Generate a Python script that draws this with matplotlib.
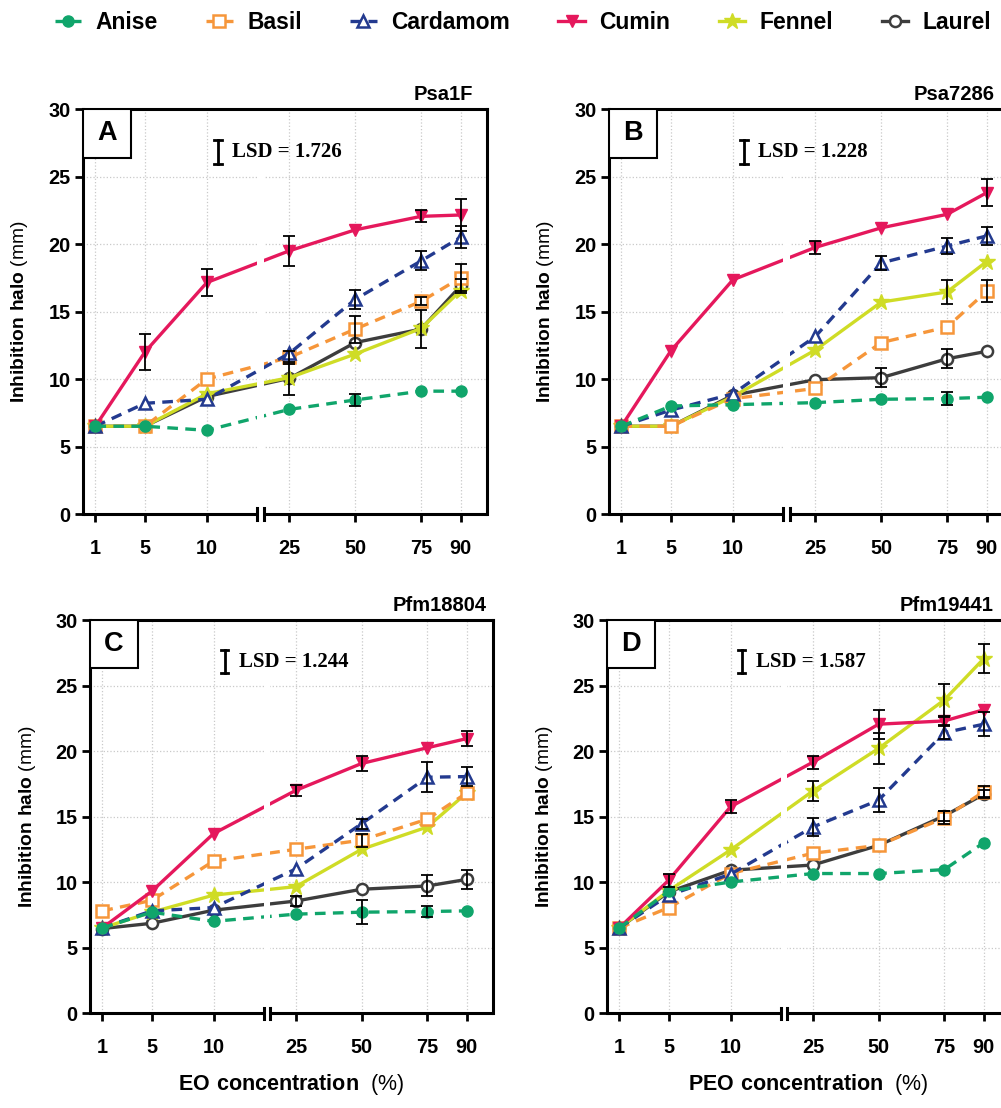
import numpy as np
import matplotlib
matplotlib.use('Agg')
import matplotlib.pyplot as plt
from matplotlib.patches import Rectangle

plt.rcParams['font.family'] = ['Liberation Sans', 'DejaVu Sans']
plt.rcParams['mathtext.fontset'] = 'custom'
plt.rcParams['mathtext.bf'] = 'Liberation Sans:bold'
plt.rcParams['mathtext.rm'] = 'Liberation Sans'

conc = [1, 5, 10, 25, 50, 75, 90]
conc_labels = ['1', '5', '10', '25', '50', '75', '90']
spices = ['Anise', 'Basil', 'Cardamom', 'Cumin', 'Fennel', 'Laurel']

# panel A - Psa1F
A_anise = [6.5, 6.5, 6.2, 7.75, 8.45, 9.1, 9.1]
A_anise_err = [0, 0, 0, 0, 0.45, 0, 0]
A_basil = [6.5, 6.5, 10.0, 11.6, 13.7, 15.75, 17.5]
A_basil_err = [0, 0, 0, 0.5, 1.0, 0.3, 1.0]
A_cardamom = [6.5, 8.2, 8.5, 11.9, 15.9, 18.75, 20.5]
A_cardamom_err = [0, 0, 0, 0, 0.7, 0.7, 0.8]
A_cumin = [6.5, 12.0, 17.15, 19.5, 21.05, 22.05, 22.15]
A_cumin_err = [0, 1.3, 1.0, 1.1, 0, 0.45, 1.2]
A_fennel = [6.5, 6.5, 8.9, 10.1, 11.85, 13.75, 16.55]
A_fennel_err = [0, 0, 0, 0, 0, 0, 0]
A_laurel = [6.5, 6.5, 8.7, 10.05, 12.7, 13.7, 16.9]
A_laurel_err = [0, 0, 0, 1.2, 0, 1.4, 0.5]

# panel B - Psa7286
B_anise = [6.5, 8.0, 8.1, 8.25, 8.5, 8.55, 8.65]
B_anise_err = [0, 0, 0, 0, 0, 0.5, 0]
B_basil = [6.5, 6.5, 8.55, 9.3, 12.7, 13.85, 16.5]
B_basil_err = [0, 0, 0, 0, 0, 0, 0.8]
B_cardamom = [6.5, 7.7, 8.9, 13.15, 18.6, 19.85, 20.6]
B_cardamom_err = [0, 0, 0, 0, 0.5, 0.6, 0.65]
B_cumin = [6.5, 12.1, 17.35, 19.75, 21.2, 22.2, 23.8]
B_cumin_err = [0, 0, 0, 0.5, 0, 0, 1.0]
B_fennel = [6.5, 6.5, 8.7, 12.15, 15.7, 16.45, 18.7]
B_fennel_err = [0, 0, 0, 0, 0, 0.9, 0]
B_laurel = [6.5, 6.5, 8.8, 9.95, 10.1, 11.5, 12.05]
B_laurel_err = [0, 0, 0, 0, 0.7, 0.7, 0]

# panel C - Pfm18804
C_anise = [6.5, 7.7, 7.0, 7.55, 7.7, 7.75, 7.8]
C_anise_err = [0, 0, 0, 0, 0.9, 0.4, 0]
C_basil = [7.8, 8.6, 11.6, 12.5, 13.2, 14.8, 16.8]
C_basil_err = [0, 0, 0, 0, 0.5, 0, 0]
C_cardamom = [6.5, 7.8, 8.05, 11.0, 14.45, 18.0, 18.05]
C_cardamom_err = [0, 0, 0, 0, 0.4, 1.15, 0.7]
C_cumin = [6.5, 9.3, 13.7, 17.0, 19.05, 20.25, 20.95]
C_cumin_err = [0, 0, 0, 0.4, 0.6, 0, 0.55]
C_fennel = [6.5, 7.7, 9.0, 9.65, 12.5, 14.2, 16.8]
C_fennel_err = [0, 0, 0, 0, 0, 0, 0]
C_laurel = [6.45, 6.85, 7.85, 8.55, 9.45, 9.7, 10.2]
C_laurel_err = [0, 0, 0, 0.4, 0, 0.8, 0.75]

# panel D - Pfm19441
D_anise = [6.5, 9.3, 10.0, 10.65, 10.65, 10.95, 13.0]
D_anise_err = [0, 0, 0, 0, 0, 0, 0]
D_basil = [6.5, 8.05, 10.65, 12.2, 12.8, 14.9, 16.9]
D_basil_err = [0, 0, 0, 0, 0, 0.5, 0.4]
D_cardamom = [6.5, 9.0, 10.6, 14.2, 16.25, 21.4, 22.05]
D_cardamom_err = [0, 0, 0, 0.7, 0.9, 0.5, 0.9]
D_cumin = [6.5, 10.15, 15.75, 19.15, 22.05, 22.3, 23.15]
D_cumin_err = [0, 0.5, 0.5, 0.5, 1.1, 0.3, 0]
D_fennel = [6.5, 9.35, 12.45, 16.95, 20.2, 23.9, 27.05]
D_fennel_err = [0, 0, 0, 0.8, 1.2, 1.25, 1.1]
D_laurel = [6.5, 9.25, 10.9, 11.3, 12.8, 15.05, 16.7]
D_laurel_err = [0, 0, 0, 0, 0, 0.4, 0.3]

panel_letters = ['A', 'B', 'C', 'D']
panel_titles = ['Psa1F', 'Psa7286', 'Pfm18804', 'Pfm19441']
lsd_values = ['1.726', '1.228', '1.244', '1.587']
xlabels = [None, None, r'$\mathbf{EO\ concentration}$  (%)',
           r'$\mathbf{PEO\ concentration}$  (%)']

panels = [
    (A_anise, A_anise_err, A_basil, A_basil_err, A_cardamom, A_cardamom_err,
     A_cumin, A_cumin_err, A_fennel, A_fennel_err, A_laurel, A_laurel_err),
    (B_anise, B_anise_err, B_basil, B_basil_err, B_cardamom, B_cardamom_err,
     B_cumin, B_cumin_err, B_fennel, B_fennel_err, B_laurel, B_laurel_err),
    (C_anise, C_anise_err, C_basil, C_basil_err, C_cardamom, C_cardamom_err,
     C_cumin, C_cumin_err, C_fennel, C_fennel_err, C_laurel, C_laurel_err),
    (D_anise, D_anise_err, D_basil, D_basil_err, D_cardamom, D_cardamom_err,
     D_cumin, D_cumin_err, D_fennel, D_fennel_err, D_laurel, D_laurel_err),
]

# style per spice
colors = {'Anise': '#10a56b', 'Basil': '#f6963a', 'Cardamom': '#233a8f',
          'Cumin': '#e5185c', 'Fennel': '#cfdc26', 'Laurel': '#3d3d3d'}
markers = {'Anise': 'o', 'Basil': 's', 'Cardamom': '^', 'Cumin': 'v',
           'Fennel': '*', 'Laurel': 'o'}
msizes = {'Anise': 8, 'Basil': 8, 'Cardamom': 8, 'Cumin': 8, 'Fennel': 12, 'Laurel': 8}
open_marker = {'Anise': False, 'Basil': True, 'Cardamom': True, 'Cumin': False,
               'Fennel': False, 'Laurel': True}
dashed = {'Anise': True, 'Basil': True, 'Cardamom': True, 'Cumin': False,
          'Fennel': False, 'Laurel': False}
draw_order = ['Laurel', 'Fennel', 'Basil', 'Cardamom', 'Cumin', 'Anise']

# broken x axis: 0..LO on the left, HI..100 on the right
BREAK_LO = 14.07
BREAK_HI = 15.2
LEFT_K = 0.0306
RIGHT_K = 0.006508
RIGHT_0 = 0.446


def fwd(x):
    x = np.asarray(x, dtype=float)
    return np.where(x <= BREAK_LO, x * LEFT_K, RIGHT_0 + (x - BREAK_HI) * RIGHT_K)


def inv(f):
    f = np.asarray(f, dtype=float)
    return np.where(f <= BREAK_LO * LEFT_K, f / LEFT_K, BREAK_HI + (f - RIGHT_0) / RIGHT_K)


fig = plt.figure(figsize=(10.01, 11.08), dpi=100)
positions = [
    [0.0829, 0.5361, 0.4036, 0.3655],
    [0.6084, 0.5361, 0.4036, 0.3655],
    [0.0899, 0.0857, 0.4026, 0.3547],
    [0.6064, 0.0857, 0.4026, 0.3547],
]
title_x = [0.965, 0.955, 0.985, 0.958]

legend_handles = None
for i, pos in enumerate(positions):
    ax = fig.add_axes(pos)
    vals = panels[i]
    ax.set_xscale('function', functions=(fwd, inv))
    ax.set_xlim(0, 100)
    ax.set_ylim(0, 30)

    handles = {}
    for name in draw_order:
        k = spices.index(name)
        y = np.array(vals[2 * k])
        e = np.array(vals[2 * k + 1])
        c = colors[name]
        ln, = ax.plot(conc, y, color=c, lw=2.4,
                      linestyle=(0, (3.2, 2.2)) if dashed[name] else '-',
                      marker=markers[name], markersize=msizes[name],
                      markerfacecolor='white' if open_marker[name] else c,
                      markeredgecolor=c, markeredgewidth=1.8 if open_marker[name] else 1,
                      label=name, zorder=2)
        handles[name] = ln
        m = e > 0
        if m.any():
            ax.errorbar(np.array(conc)[m], y[m], yerr=e[m], fmt='none', ecolor='black',
                        elinewidth=1.3, capsize=4, capthick=1.3, zorder=2.6)
    if legend_handles is None:
        legend_handles = [handles[s] for s in spices]

    # white gap for the axis break
    ax.axvspan(BREAK_LO, BREAK_HI, color='white', lw=0, zorder=2.4)

    ax.set_xticks(conc)
    ax.set_xticklabels(conc_labels)
    ax.set_yticks([0, 5, 10, 15, 20, 25, 30])
    ax.grid(True, color='#c9c9c9', linestyle=':', lw=0.9)
    ax.set_axisbelow(True)
    ax.tick_params(axis='both', width=2, length=6, labelsize=14.3, color='black')
    ax.tick_params(axis='x', pad=12)
    ax.tick_params(axis='y', pad=3)
    for lab in ax.get_xticklabels() + ax.get_yticklabels():
        lab.set_fontweight('bold')
    for sp in ['top', 'right', 'left']:
        ax.spines[sp].set_linewidth(2.2)
    ax.spines['bottom'].set_visible(False)
    tr = ax.get_xaxis_transform()
    ax.plot([0, BREAK_LO], [0, 0], color='black', lw=2.2, transform=tr,
            clip_on=False, solid_capstyle='butt', zorder=3)
    ax.plot([BREAK_HI, 100], [0, 0], color='black', lw=2.2, transform=tr,
            clip_on=False, solid_capstyle='butt', zorder=3)
    for bx in (BREAK_LO, BREAK_HI):
        ax.plot([bx, bx], [-0.014, 0.014], color='black', lw=2.2, transform=tr,
                clip_on=False, zorder=3)

    ax.set_ylabel(r'$\mathbf{Inhibition\ halo}$ (mm)', fontsize=13.8)
    ax.yaxis.set_label_coords(-0.13, 0.5)
    if xlabels[i]:
        ax.set_xlabel(xlabels[i], fontsize=15.5)
        ax.xaxis.set_label_coords(0.5, -0.15)

    ax.text(title_x[i], 1.012, panel_titles[i], transform=ax.transAxes,
            ha='right', va='bottom', fontsize=14.5, fontweight='bold')

    # panel letter box
    ax.add_patch(Rectangle((0, 0.879), 0.119, 0.121, transform=ax.transAxes,
                           facecolor='white', edgecolor='black', lw=1.5, zorder=4))
    ax.text(0.0595, 0.94, panel_letters[i], transform=ax.transAxes, ha='center',
            va='center', fontsize=19.5, fontweight='bold', zorder=5)

    # LSD marker
    bx, y0, y1, hw = 0.334, 0.864, 0.923, 0.009
    ax.plot([bx, bx], [y0, y1], color='black', lw=2, transform=ax.transAxes, zorder=5)
    ax.plot([bx - hw, bx + hw], [y0, y0], color='black', lw=2, transform=ax.transAxes, zorder=5)
    ax.plot([bx - hw, bx + hw], [y1, y1], color='black', lw=2, transform=ax.transAxes, zorder=5)
    ax.text(0.37, 0.893, 'LSD = ' + lsd_values[i], transform=ax.transAxes,
            ha='left', va='center', fontsize=15, fontweight='bold',
            family='Liberation Serif', zorder=5)

fig.legend(legend_handles, spices, loc='center', bbox_to_anchor=(0.5225, 0.98),
           ncol=6, frameon=False, handlelength=1.15, handletextpad=0.65,
           columnspacing=2.1, prop={'weight': 'bold', 'size': 16.5})

fig.savefig('out.png', dpi=100)
